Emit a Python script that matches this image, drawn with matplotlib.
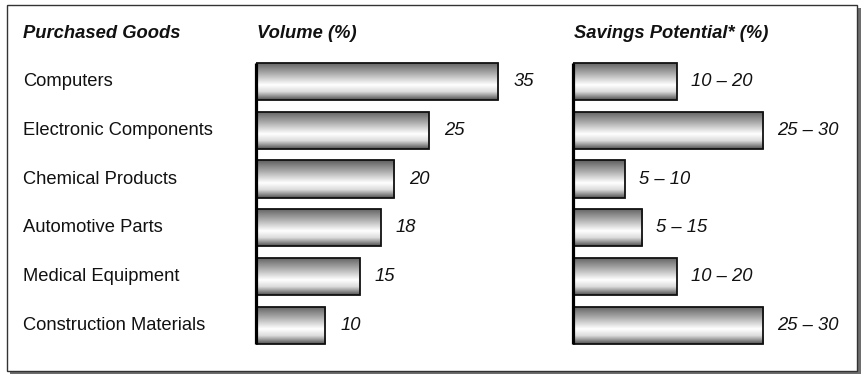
import numpy as np
import matplotlib
matplotlib.use("Agg")
import matplotlib.pyplot as plt
from matplotlib.patches import Rectangle
from matplotlib.colors import LinearSegmentedColormap

plt.rcParams['font.family'] = ['Liberation Sans', 'DejaVu Sans']

goods = ["Computers", "Electronic Components", "Chemical Products",
         "Automotive Parts", "Medical Equipment", "Construction Materials"]
volume = [35, 25, 20, 18, 15, 10]
savings_low = [10, 25, 5, 5, 10, 25]
savings_high = [20, 30, 10, 15, 20, 30]
savings_labels = ["10 – 20", "25 – 30", "5 – 10", "5 – 15", "10 – 20", "25 – 30"]
headers = ["Purchased Goods", "Volume (%)", "Savings Potential* (%)"]

W, H = 862, 375
fig = plt.figure(figsize=(W / 100, H / 100), dpi=100)

def fx(x):
    return x / W

def fy(y):
    return 1 - y / H

# frame with shadow
fig.patches.append(Rectangle((fx(10), fy(374)), fx(851), (374 - 8) / H,
                             transform=fig.transFigure, facecolor='#6e6e6e',
                             edgecolor='none', zorder=-3))
fig.patches.append(Rectangle((fx(7), fy(371)), fx(850), (371 - 5) / H,
                             transform=fig.transFigure, facecolor='white',
                             edgecolor='#333333', lw=1.0, zorder=-2))

cmap = LinearSegmentedColormap.from_list(
    "cyl", [(0.0, '#5e5e5e'), (0.3, '#acacac'), (0.6, '#ffffff'),
            (0.78, '#dcdcdc'), (1.0, '#505050')])
grad = np.linspace(0, 1, 256).reshape(-1, 1)

pxu = 6.92          # pixels per unit
row = 48.8
top = 57
bar_h = 0.76
fs = 13.2

def make_ax(left_px, width_px):
    ax = fig.add_axes([fx(left_px), fy(top + 6 * row), width_px / W, 6 * row / H])
    ax.axis('off')
    ax.patch.set_alpha(0)
    return ax

def draw_bars(ax, values, width_px):
    y = np.arange(len(values))
    bars = ax.barh(y, values, height=bar_h, facecolor='none',
                   edgecolor='#111111', lw=1.3, zorder=3)
    for b in bars:
        x0, y0 = b.get_x(), b.get_y()
        im = ax.imshow(grad, cmap=cmap, aspect='auto', zorder=2,
                       extent=[x0, x0 + b.get_width(), y0 + b.get_height(), y0],
                       interpolation='bilinear')
        im.set_clip_path(b)
    ax.vlines(0, -bar_h / 2, len(values) - 1 + bar_h / 2, color='black',
              lw=2.3, zorder=4, clip_on=False)
    ax.set_xlim(0, width_px / pxu)
    ax.set_ylim(5.5, -0.5)
    return bars

ax1 = make_ax(256, 290)
draw_bars(ax1, volume, 290)
for i, v in enumerate(volume):
    ax1.text(v + 15 / pxu, i, str(v), va='center', ha='left',
             fontsize=fs, style='italic', color='#111111')

mid = [(a + b) / 2 for a, b in zip(savings_low, savings_high)]
ax2 = make_ax(573, 285)
draw_bars(ax2, mid, 285)
for i, (m, lab) in enumerate(zip(mid, savings_labels)):
    ax2.text(m + 14 / pxu, i, lab, va='center', ha='left',
             fontsize=fs, style='italic', color='#111111')

for i, g in enumerate(goods):
    fig.text(fx(23), fy(top + (i + 0.5) * row), g, va='center', ha='left',
             fontsize=fs, color='#111111')

for x, h in zip([23, 257, 574], headers):
    fig.text(fx(x), fy(33), h, va='center', ha='left', fontsize=fs,
             weight='bold', style='italic', color='#111111')

fig.savefig("out.png", dpi=100)
